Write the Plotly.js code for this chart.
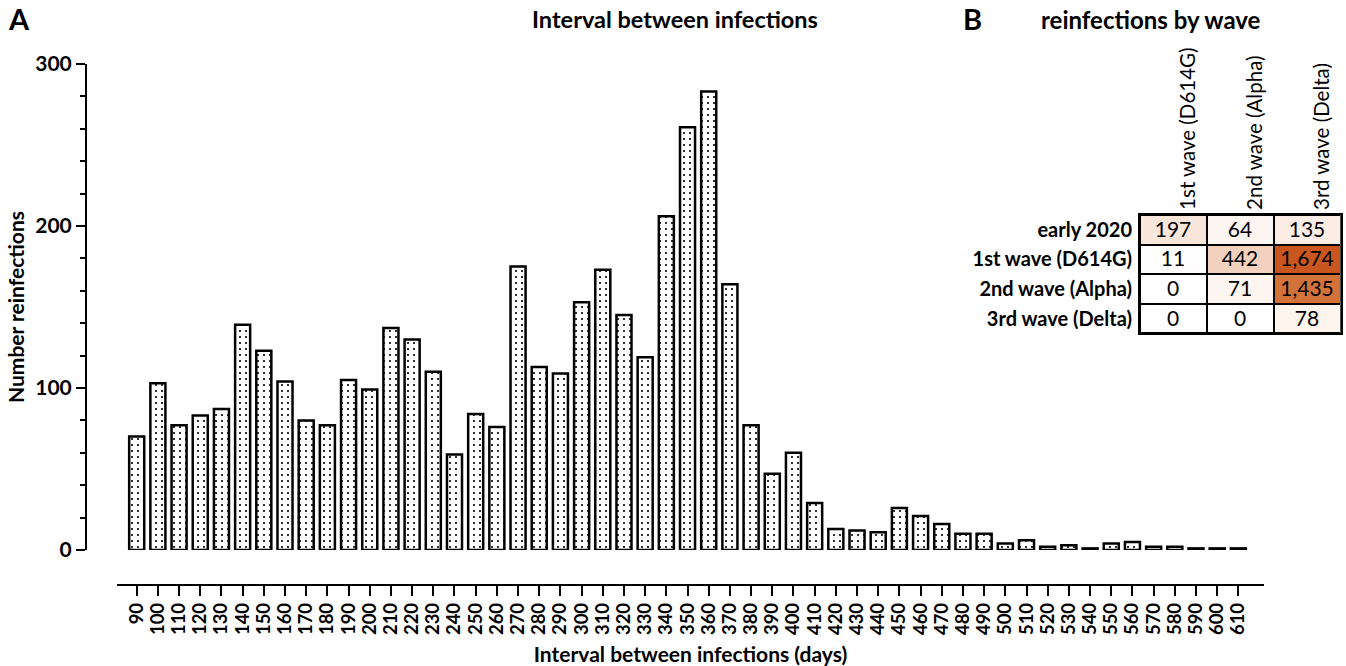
<!DOCTYPE html>
<html>
<head>
<meta charset="utf-8">
<script src="https://cdn.plot.ly/plotly-3.0.1.min.js"></script>
<style>html,body{margin:0;padding:0;background:#fff;}#chart{width:1346px;height:666px;}</style>
</head>
<body>
<div id="chart"></div>
<script>
// Panel A: interval between infections (days) and number of reinfections
var intervals = [90,100,110,120,130,140,150,160,170,180,190,200,210,220,230,240,250,260,270,280,290,300,310,320,330,340,350,360,370,380,390,400,410,420,430,440,450,460,470,480,490,500,510,520,530,540,550,560,570,580,590,600,610];
var reinfections = [70,103,77,83,87,139,123,104,80,77,105,99,137,130,110,59,84,76,175,113,109,153,173,145,119,206,261,283,164,77,47,60,29,13,12,11,26,21,16,10,10,4,6,2,3,1,4,5,2,2,1,1,1];
var intervalLabels = intervals.map(function(v){return String(v);});

// Panel B: reinfections by wave
var waveCols = ['1st wave (D614G)', '2nd wave (Alpha)', '3rd wave (Delta)'];
var waveRows = ['early 2020', '1st wave (D614G) ', '2nd wave (Alpha) ', '3rd wave (Delta) '];
var waveRowLabels = ['early 2020', '1st wave (D614G)', '2nd wave (Alpha)', '3rd wave (Delta)'];
var row_early2020 = [197, 64, 135];
var row_wave1 = [11, 442, 1674];
var row_wave2 = [0, 71, 1435];
var row_wave3 = [0, 0, 78];
var waveMatrix = [row_early2020, row_wave1, row_wave2, row_wave3];

var W = 1346, H = 666;
function px(x){return x / W;}
function py(y){return 1 - y / H;}

var FONT = 'Lato, "Open Sans", sans-serif';

var bars = {
  type: 'bar',
  x: intervals,
  y: reinfections,
  width: 7.1,
  xaxis: 'x', yaxis: 'y',
  marker: {
    color: '#ffffff',
    line: {color: '#000000', width: 2.5},
    pattern: {shape: '.', fgcolor: '#000000', bgcolor: '#ffffff', size: 6, solidity: 0.1}
  },
  hoverinfo: 'skip'
};

var blackBase = {
  type: 'heatmap',
  x: waveCols, y: waveRows,
  z: waveMatrix.map(function(r){return r.map(function(){return 1;});}),
  colorscale: [[0,'#000000'],[1,'#000000']],
  showscale: false, hoverinfo: 'skip',
  xaxis: 'x2', yaxis: 'y2'
};

var heat = {
  type: 'heatmap',
  x: waveCols, y: waveRows,
  z: waveMatrix,
  zmin: 0, zmax: 1674,
  colorscale: [[0,'#ffffff'],[0.04,'#fdf5f0'],[0.118,'#f9e6da'],[0.264,'#f2d2be'],[0.857,'#d3733a'],[1,'#c8561e']],
  xgap: 2, ygap: 2,
  showscale: false, hoverinfo: 'skip',
  texttemplate: '%{z:,}',
  textfont: {family: FONT, size: 21, color: '#000000'},
  xaxis: 'x2', yaxis: 'y2'
};

var layout = {
  width: W, height: H, autosize: false,
  margin: {l: 0, r: 0, t: 0, b: 0, pad: 0},
  paper_bgcolor: '#ffffff', plot_bgcolor: '#ffffff',
  showlegend: false,
  font: {family: FONT, color: '#000000'},
  title: {
    text: '<b>Interval between infections</b>',
    x: px(675), xanchor: 'center', y: py(20), yanchor: 'middle', yref: 'container', xref: 'paper',
    font: {family: FONT, size: 23.5, color: '#000000'}
  },
  xaxis: {
    domain: [px(117), px(1264)],
    range: [80.7, 622.1],
    anchor: 'free', position: py(584.5),
    tickmode: 'array', tickvals: intervals, ticktext: intervalLabels,
    tickangle: -90,
    ticks: 'outside', ticklen: 10, tickwidth: 2, tickcolor: '#000',
    showline: true, linewidth: 2, linecolor: '#000',
    showgrid: false, zeroline: false,
    tickfont: {family: FONT, size: 18.5, color: '#000', weight: 'bold'},
    title: {text: '<b>Interval between infections (days)</b>', standoff: 12, font: {family: FONT, size: 21, color: '#000'}}
  },
  yaxis: {
    domain: [py(550), py(64)],
    range: [0, 300],
    anchor: 'free', position: px(86),
    tickmode: 'linear', tick0: 0, dtick: 100,
    ticks: 'outside', ticklen: 9, tickwidth: 2, tickcolor: '#000',
    minor: {dtick: 20, ticks: 'outside', ticklen: 5, tickwidth: 2, tickcolor: '#000'},
    showline: true, linewidth: 2, linecolor: '#000',
    showgrid: false, zeroline: false,
    tickfont: {family: FONT, size: 21, color: '#000', weight: 'bold'},
    title: {text: '<b>Number reinfections</b>', standoff: 4, font: {family: FONT, size: 21, color: '#000'}}
  },
  xaxis2: {
    domain: [px(1140), px(1340.7)],
    anchor: 'y2', side: 'top',
    tickangle: -90, ticks: '',
    tickmode: 'array', tickvals: waveCols, ticktext: waveCols,
    ticklabelshift: 15, ticklabelstandoff: -1,
    showline: true, linewidth: 2, linecolor: '#000', mirror: true,
    showgrid: false, zeroline: false, fixedrange: true,
    tickfont: {family: FONT, size: 20.5, color: '#000'}
  },
  yaxis2: {
    domain: [py(333.3), py(215)],
    anchor: 'x2', autorange: 'reversed', ticks: '',
    tickmode: 'array', tickvals: waveRows, ticktext: waveRowLabels,
    ticklabelstandoff: 2,
    showline: true, linewidth: 2, linecolor: '#000', mirror: true,
    showgrid: false, zeroline: false, fixedrange: true,
    tickfont: {family: FONT, size: 20, color: '#000', weight: 'bold'}
  },
  annotations: [
    {text: '<b>A</b>', x: px(19), y: py(19), xref: 'paper', yref: 'paper', xanchor: 'center', yanchor: 'middle', showarrow: false, font: {family: FONT, size: 29, color: '#000'}},
    {text: '<b>B</b>', x: px(972), y: py(19), xref: 'paper', yref: 'paper', xanchor: 'center', yanchor: 'middle', showarrow: false, font: {family: FONT, size: 29, color: '#000'}},
    {text: '<b>reinfections by wave</b>', x: px(1151), y: py(20), xref: 'paper', yref: 'paper', xanchor: 'center', yanchor: 'middle', showarrow: false, font: {family: FONT, size: 24, color: '#000'}}
  ]
};

Plotly.newPlot('chart', [bars, blackBase, heat], layout, {displayModeBar: false, staticPlot: true});
</script>
</body>
</html>
